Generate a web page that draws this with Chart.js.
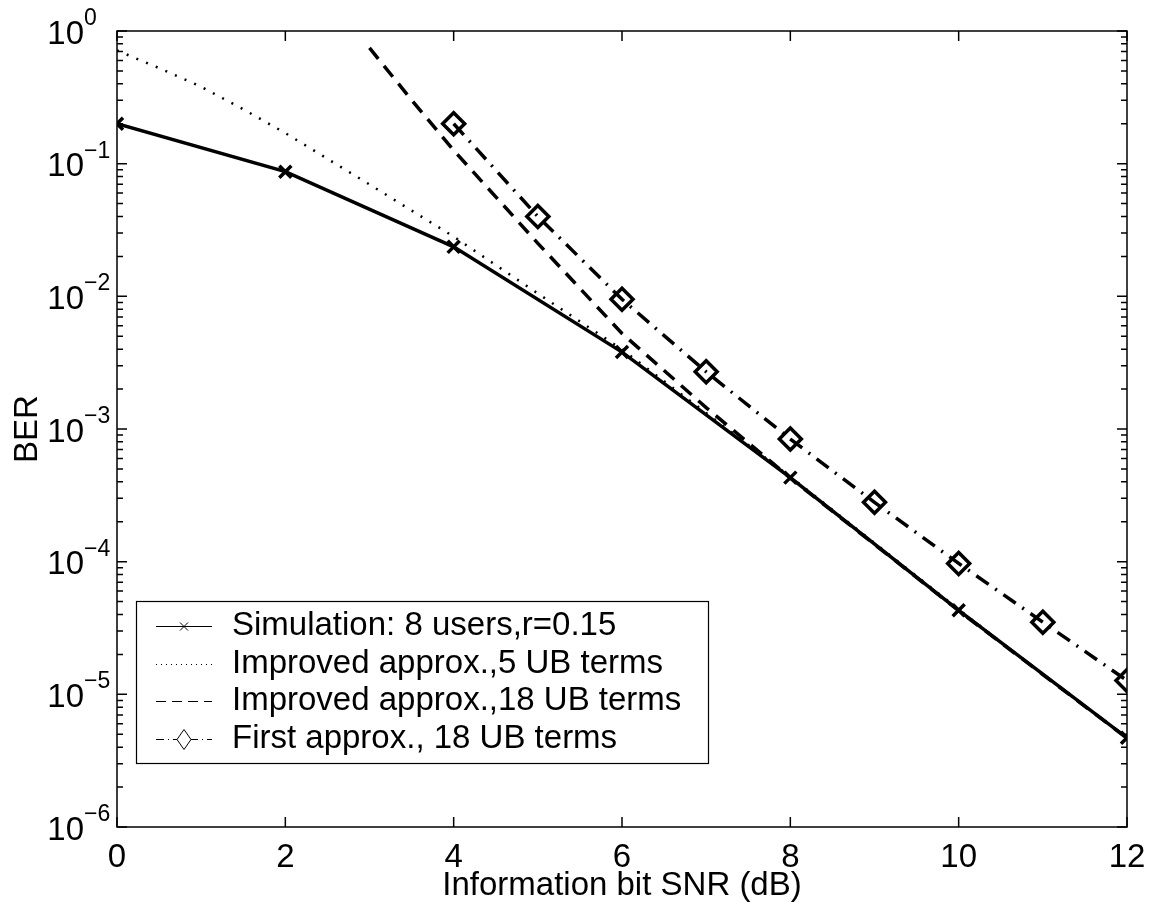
<!DOCTYPE html>
<html><head><meta charset="utf-8">
<script src="https://cdn.jsdelivr.net/npm/chart.js@4.4.0/dist/chart.umd.min.js"></script>
<style>html,body{margin:0;padding:0;background:#fff;} canvas{display:block;}</style>
</head><body>
<canvas id="c" width="1153" height="914"></canvas>
<script>
// ---- data ----
const snrSim = [0, 2, 4, 6, 8, 10, 12];
const berSim = [0.2, 0.087, 0.0236, 0.0038, 0.00043, 0.000043, 0.0000047];

const snrImp5 = [0, 0.5, 1, 1.5, 2, 3, 4, 5, 6, 7, 8, 9, 10, 11, 12];
const berImp5 = [0.714, 0.525, 0.38, 0.257, 0.17, 0.0697, 0.0282, 0.0105, 0.00398, 0.00132, 0.000437, 0.000138, 0.0000437, 0.0000141, 0.00000468];

const snrImp18 = [3, 3.5, 4, 5, 6, 7, 8, 9, 10, 11, 12];
const berImp18 = [0.745, 0.302, 0.126, 0.0251, 0.00525, 0.00145, 0.000427, 0.000135, 0.0000427, 0.0000141, 0.00000468];

const snrFirst = [4, 5, 6, 7, 8, 9, 10, 11, 12];
const berFirst = [0.2, 0.04, 0.0095, 0.0027, 0.00084, 0.00028, 0.000097, 0.000035, 0.0000127];

const xTickValues = [0, 2, 4, 6, 8, 10, 12];
const yTickExponents = [0, -1, -2, -3, -4, -5, -6];
const seriesLabels = [
  'Simulation: 8 users,r=0.15',
  'Improved approx.,5 UB terms',
  'Improved approx.,18 UB terms',
  'First approx., 18 UB terms'
];
const xTitle = 'Information bit SNR (dB)';
const yTitle = 'BER';

const FONT = '"Liberation Sans", Arial, Helvetica, sans-serif';
const pts = (xs, ys) => xs.map((v, i) => ({x: v, y: ys[i]}));

const axisPlugin = {
  id: 'matlabAxes',
  afterDatasetsDraw(chart) {
    const ctx = chart.ctx, a = chart.chartArea, x = chart.scales.x, y = chart.scales.y;
    ctx.save();
    ctx.strokeStyle = '#000';
    ctx.lineWidth = 1.5;
    ctx.setLineDash([]);
    ctx.beginPath();
    xTickValues.forEach(v => {
      const px = x.getPixelForValue(v);
      ctx.moveTo(px, a.bottom); ctx.lineTo(px, a.bottom - 10);
      ctx.moveTo(px, a.top); ctx.lineTo(px, a.top + 10);
    });
    yTickExponents.forEach(e => {
      const py = y.getPixelForValue(Math.pow(10, e));
      ctx.moveTo(a.left, py); ctx.lineTo(a.left + 10, py);
      ctx.moveTo(a.right, py); ctx.lineTo(a.right - 10, py);
      if (e > -6) {
        for (let k = 2; k <= 9; k++) {
          const q = y.getPixelForValue(k * Math.pow(10, e - 1));
          ctx.moveTo(a.left, q); ctx.lineTo(a.left + 6, q);
          ctx.moveTo(a.right, q); ctx.lineTo(a.right - 6, q);
        }
      }
    });
    ctx.stroke();
    ctx.strokeRect(a.left, a.top, a.right - a.left, a.bottom - a.top);

    // tick labels
    ctx.fillStyle = '#000';
    ctx.font = '33px ' + FONT;
    ctx.textAlign = 'center';
    ctx.textBaseline = 'alphabetic';
    xTickValues.forEach(v => {
      ctx.fillText(String(v), x.getPixelForValue(v), a.bottom + 40);
    });
    yTickExponents.forEach(e => {
      const py = y.getPixelForValue(Math.pow(10, e));
      ctx.font = '33px ' + FONT;
      ctx.textAlign = 'right';
      ctx.fillText('10', 84, py + 12.6);
      ctx.font = '23px ' + FONT;
      ctx.textAlign = 'left';
      ctx.fillText(e === 0 ? '0' : '\u2212' + String(-e), 84, py - 6);
    });

    // axis titles
    ctx.font = '33px ' + FONT;
    ctx.textAlign = 'center';
    ctx.fillText(xTitle, (a.left + a.right) / 2, 895);
    ctx.save();
    ctx.translate(37, (a.top + a.bottom) / 2);
    ctx.rotate(-Math.PI / 2);
    ctx.fillText(yTitle, 0, 0);
    ctx.restore();

    // legend
    const L = 136.5, T = 601.5, R = 708.5, B = 763.5;
    ctx.fillStyle = '#fff';
    ctx.fillRect(L, T, R - L, B - T);
    ctx.lineWidth = 1.2;
    ctx.strokeStyle = '#000';
    ctx.strokeRect(L, T, R - L, B - T);
    const x0 = 156, x1 = 212, xc = 184;
    const dashes = [[], [1, 4], [10, 6], [8, 4, 1, 4]];
    seriesLabels.forEach((lab, i) => {
      const base = 635 + i * 37.7;
      const ly = Math.round(base - 9) + 0.5;
      ctx.strokeStyle = '#000';
      ctx.lineWidth = 1;
      ctx.setLineDash(dashes[i]);
      ctx.beginPath(); ctx.moveTo(x0, ly); ctx.lineTo(x1, ly); ctx.stroke();
      ctx.setLineDash([]);
      if (i === 0) {
        ctx.beginPath();
        ctx.moveTo(xc - 4, ly - 4); ctx.lineTo(xc + 4, ly + 4);
        ctx.moveTo(xc - 4, ly + 4); ctx.lineTo(xc + 4, ly - 4);
        ctx.stroke();
      }
      if (i === 3) {
        ctx.fillStyle = '#fff';
        ctx.beginPath();
        ctx.moveTo(xc, ly - 10); ctx.lineTo(xc + 7, ly); ctx.lineTo(xc, ly + 10); ctx.lineTo(xc - 7, ly); ctx.closePath();
        ctx.fill(); ctx.stroke();
      }
      ctx.fillStyle = '#000';
      ctx.font = '33px ' + FONT;
      ctx.textAlign = 'left';
      ctx.fillText(lab, 232, base);
    });
    ctx.restore();
  }
};

new Chart(document.getElementById('c'), {
  type: 'line',
  data: {
    datasets: [
      {
        label: seriesLabels[0], data: pts(snrSim, berSim),
        borderColor: '#000', borderWidth: 3.5, fill: false,
        pointStyle: 'crossRot', pointRadius: 8.5, pointBorderWidth: 3.5,
        pointBorderColor: '#000', pointBackgroundColor: '#000'
      },
      {
        label: seriesLabels[1], data: pts(snrImp5, berImp5),
        borderColor: '#000', borderWidth: 2.5, borderDash: [2, 8.5], fill: false,
        pointRadius: 0
      },
      {
        label: seriesLabels[2], data: pts(snrImp18, berImp18),
        borderColor: '#000', borderWidth: 3.5, borderDash: [14, 9], fill: false,
        pointRadius: 0
      },
      {
        label: seriesLabels[3], data: pts(snrFirst, berFirst),
        borderColor: '#000', borderWidth: 3.5, borderDash: [15, 8, 2, 8], fill: false,
        pointStyle: 'rectRot', pointRadius: 11, pointBorderWidth: 3.5,
        pointBorderColor: '#000', pointBackgroundColor: 'rgba(0,0,0,0)'
      }
    ]
  },
  options: {
    responsive: false,
    animation: false,
    devicePixelRatio: 1,
    layout: {padding: {left: 117, top: 31, right: 26, bottom: 87}},
    plugins: {legend: {display: false}, tooltip: {enabled: false}},
    scales: {
      x: {type: 'linear', min: 0, max: 12, display: false},
      y: {type: 'logarithmic', min: 1e-6, max: 1, display: false}
    }
  },
  plugins: [axisPlugin]
});
</script>
</body></html>
